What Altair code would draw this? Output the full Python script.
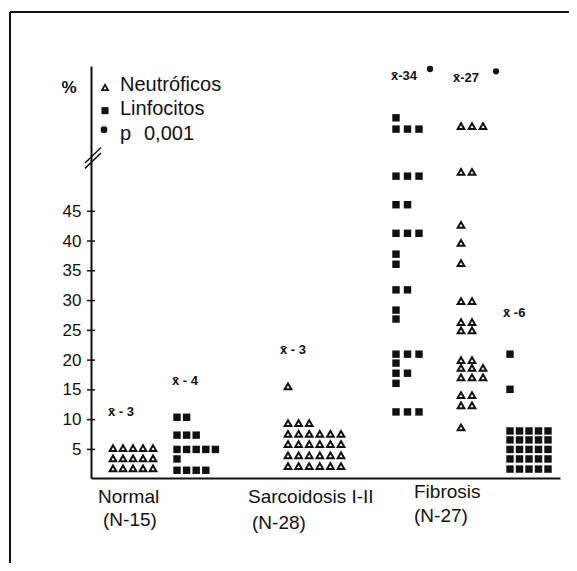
import altair as alt
import pandas as pd

# ---------------- data (values in %) ----------------
normal_neut_vals = [5.2, 3.5, 1.8]
normal_neut_counts = [5, 5, 5]
normal_lymph_vals = [10.4, 7.4, 5.0, 3.4, 1.5]
normal_lymph_counts = [2, 3, 5, 1, 4]
sarc_neut_vals = [15.6, 9.4, 7.6, 5.9, 4.0, 2.2]
sarc_neut_counts = [1, 3, 6, 6, 6, 6]
sarc_lymph_vals = [60.7, 58.8, 50.9, 46.1, 41.3, 37.8, 36.1, 31.8, 28.4, 26.9,
                   21.0, 19.5, 17.8, 16.1, 11.3]
sarc_lymph_counts = [1, 3, 3, 2, 3, 1, 1, 2, 1, 1, 3, 1, 2, 1, 3]
fib_neut_vals = [59.3, 51.6, 42.7, 39.7, 36.3, 29.9, 26.4, 25.0, 20.0, 18.7,
                 17.1, 14.1, 12.4, 8.7]
fib_neut_counts = [3, 2, 1, 1, 1, 2, 2, 2, 2, 3, 3, 2, 2, 1]
fib_lymph_vals = [21.0, 15.1, 8.1, 6.6, 5.0, 3.4, 1.7]
fib_lymph_counts = [1, 1, 5, 5, 5, 5, 5]

groups = ["Normal", "Sarcoidosis I-II", "Fibrosis"]
n_labels = ["(N-15)", "(N-28)", "(N-27)"]
mean_labels = ["x\u0304 - 3", "x\u0304 - 4", "x\u0304 - 3", "x\u0304-34", "x\u0304-27", "x\u0304 -6"]
mean_values = [11.3, 16.5, 21.7, 67.7, 67.4, 27.9]
sig_values = [68.9, 68.5]
y_ticks = [5, 10, 15, 20, 25, 30, 35, 40, 45]
legend_labels = ["Neutróficos", "Linfocitos", "p"]
legend_extra = "0,001"
legend_values = [66.2, 62.1, 58.0]

# ---------------- layout (x in plot pixels) ----------------
W, H = 469, 412
Y_DOM = [0.2, 69.4]
blocks = [  # (vals, counts, start, step, kind)
    (normal_neut_vals, normal_neut_counts, 22, 10.0, "tri"),
    (normal_lymph_vals, normal_lymph_counts, 86, 9.6, "sq"),
    (sarc_neut_vals, sarc_neut_counts, 197, 10.6, "tri"),
    (sarc_lymph_vals, sarc_lymph_counts, 305, 11.5, "sq"),
    (fib_neut_vals, fib_neut_counts, 370, 11.0, "tri"),
    (fib_lymph_vals, fib_lymph_counts, 419, 9.5, "sq"),
]
rows = []
for vals, counts, start, step, kind in blocks:
    for v, c in zip(vals, counts):
        for i in range(c):
            rows.append({"x": start + i * step, "y": v, "kind": kind})
pts = pd.DataFrame(rows)

mean_x = [17, 81, 189, 300, 362, 412]
means_df = pd.DataFrame({"x": mean_x, "y": mean_values, "t": mean_labels})
sig_df = pd.DataFrame({"x": [339, 405], "y": sig_values})

cat_df = pd.DataFrame({
    "x": [7, 157, 323] + [12, 161, 323],
    "y": [-3.0, -3.0, -2.2] + [-6.9, -7.3, -6.2],
    "t": groups + n_labels,
})

ticks_df = pd.DataFrame({"y": y_ticks, "x": [-4] * len(y_ticks), "x2": [4] * len(y_ticks)})
break_df = pd.DataFrame({"x": [-6, -6], "x2": [10, 10], "y": [52.2, 53.1], "y2": [54.8, 55.7]})

leg_pts = pd.DataFrame({"x": [14, 14, 13], "y": [65.8, 61.9, 58.7], "kind": ["tri", "sq", "dot"]})
leg_txt = pd.DataFrame({"x": [29, 29, 29, 53], "y": legend_values + [legend_values[2]],
                        "t": legend_labels + [legend_extra]})
pct_df = pd.DataFrame({"x": [-22], "y": [65.7], "t": ["%"]})

xs = alt.Scale(domain=[0, W], nice=False, zero=False)
ys = alt.Scale(domain=Y_DOM, nice=False, zero=False)
X = alt.X("x:Q", scale=xs, axis=alt.Axis(labels=False, ticks=False, grid=False, title=None,
                                         domainColor="#111", domainWidth=2))
Y = alt.Y("y:Q", scale=ys, axis=alt.Axis(values=y_ticks, ticks=False, grid=False, title=None,
                                         labelPadding=10, labelFontSize=17, labelColor="#111",
                                         labelFont="Liberation Sans",
                                         domainColor="#111", domainWidth=2))

FONT = "Liberation Sans"

tri = alt.Chart(pts[pts.kind == "tri"]).mark_point(
    shape="triangle-up", filled=False, stroke="#111", strokeWidth=2, size=44, opacity=1
).encode(x=X, y=Y)
sq = alt.Chart(pts[pts.kind == "sq"]).mark_square(color="#111", size=55, opacity=1).encode(x=X, y=Y)

means = alt.Chart(means_df).mark_text(align="left", baseline="middle", font=FONT,
                                      fontSize=13, fontWeight="bold", color="#111").encode(
    x=X, y=Y, text="t:N")
sig = alt.Chart(sig_df).mark_circle(color="#111", size=40, opacity=1).encode(x=X, y=Y)

cats = alt.Chart(cat_df).mark_text(align="left", baseline="middle", font=FONT, fontSize=19,
                                   color="#111").encode(x=X, y=Y, text="t:N")

tick_rules = alt.Chart(ticks_df).mark_rule(color="#111", strokeWidth=1.5).encode(
    x=X, x2="x2:Q", y=Y)
breaks = alt.Chart(break_df).mark_rule(color="#111", strokeWidth=1.5).encode(
    x=X, x2="x2:Q", y=Y, y2="y2:Q")

leg_tri = alt.Chart(leg_pts[leg_pts.kind == "tri"]).mark_point(
    shape="triangle-up", filled=False, stroke="#111", strokeWidth=1.8, size=36, opacity=1).encode(x=X, y=Y)
leg_sq = alt.Chart(leg_pts[leg_pts.kind == "sq"]).mark_square(
    color="#111", size=50, opacity=1).encode(x=X, y=Y)
leg_dot = alt.Chart(leg_pts[leg_pts.kind == "dot"]).mark_circle(
    color="#111", size=45, opacity=1).encode(x=X, y=Y)
leg_text = alt.Chart(leg_txt).mark_text(align="left", baseline="middle", font=FONT, fontSize=20,
                                        color="#111").encode(x=X, y=Y, text="t:N")
pct = alt.Chart(pct_df).mark_text(align="center", baseline="middle", font=FONT, fontSize=17,
                                  fontWeight="bold", color="#111").encode(x=X, y=Y, text="t:N")

one = pd.DataFrame({"a": [0]})
frame_left = alt.Chart(one).mark_rule(color="#111", strokeWidth=2).encode(
    x=alt.value(-81), y=alt.value(-54), y2=alt.value(500))
frame_top = alt.Chart(one).mark_rule(color="#111", strokeWidth=2).encode(
    x=alt.value(-81), x2=alt.value(480), y=alt.value(-54))

chart = alt.layer(
    frame_left, frame_top, tick_rules, breaks, tri, sq, means, sig, cats,
    leg_tri, leg_sq, leg_dot, leg_text, pct
).properties(
    width=W, height=H,
    autosize=alt.AutoSizeParams(type="none"),
    padding={"left": 83, "top": 58, "right": 9, "bottom": 85},
    background="white",
).configure_view(stroke=None)

chart.save("out.html", embed_options={"renderer": "svg", "actions": False})
